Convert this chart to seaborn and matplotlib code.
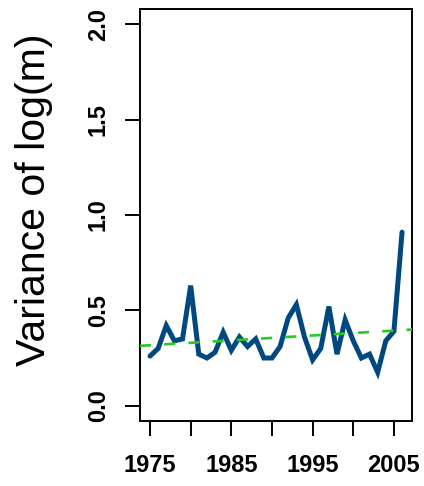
import numpy as np
import pandas as pd
import matplotlib
matplotlib.use("Agg")
import matplotlib.pyplot as plt
import seaborn as sns

years = list(range(1975, 2007))
variance = [0.26, 0.30, 0.42, 0.34, 0.35, 0.63, 0.27, 0.25, 0.28, 0.385,
            0.29, 0.36, 0.31, 0.35, 0.25, 0.25, 0.31, 0.46, 0.53, 0.36,
            0.24, 0.30, 0.52, 0.27, 0.45, 0.34, 0.25, 0.27, 0.175, 0.34,
            0.39, 0.91]
x_ticks = [1975, 1980, 1985, 1990, 1995, 2000, 2005]
x_ticklabels = ["1975", "", "1985", "", "1995", "", "2005"]
y_ticks = [0.0, 0.5, 1.0, 1.5, 2.0]
y_ticklabels = ["0.0", "0.5", "1.0", "1.5", "2.0"]

df = pd.DataFrame({"year": years, "variance": variance})

sns.set_theme(style="ticks")
plt.rcParams["font.family"] = ["Liberation Sans", "DejaVu Sans"]
plt.rcParams["text.color"] = "black"
plt.rcParams["axes.labelcolor"] = "black"
plt.rcParams["xtick.color"] = "black"
plt.rcParams["ytick.color"] = "black"

fig = plt.figure(figsize=(4.24, 4.86), dpi=100)
ax = fig.add_axes([0.330, 0.134, 0.642, 0.847])

sns.lineplot(data=df, x="year", y="variance", ax=ax, color="#00487f",
             linewidth=3.6, solid_joinstyle="miter")

slope, intercept = np.polyfit(df["year"], df["variance"], 1)
ax.axline((0, intercept), slope=slope, color="#22cc22", linewidth=1.9,
          dashes=(4.2, 5.0), zorder=3)

xr = years[-1] - years[0]
ax.set_xlim(years[0] - 0.04 * xr, years[-1] + 0.04 * xr)
ax.set_ylim(-0.08, 2.08)

ax.set_xticks(x_ticks)
ax.set_xticklabels(x_ticklabels, fontsize=17, fontweight="bold")
ax.set_yticks(y_ticks)
ax.set_yticklabels(y_ticklabels, fontsize=17, fontweight="bold",
                   rotation=90, va="center")
ax.tick_params(axis="both", length=10.8, width=1.4, color="black",
               labelcolor="black")
ax.tick_params(axis="x", pad=13)
ax.tick_params(axis="y", pad=11)

for s in ax.spines.values():
    s.set_visible(True)
    s.set_linewidth(1.4)
    s.set_color("black")

ax.set_xlabel("")
ax.set_ylabel("Variance of log(m)", fontsize=29.5, color="black")
ax.yaxis.set_label_coords(-0.32, 0.536)
ax.grid(False)

fig.savefig("out.png", dpi=100, facecolor="white")
